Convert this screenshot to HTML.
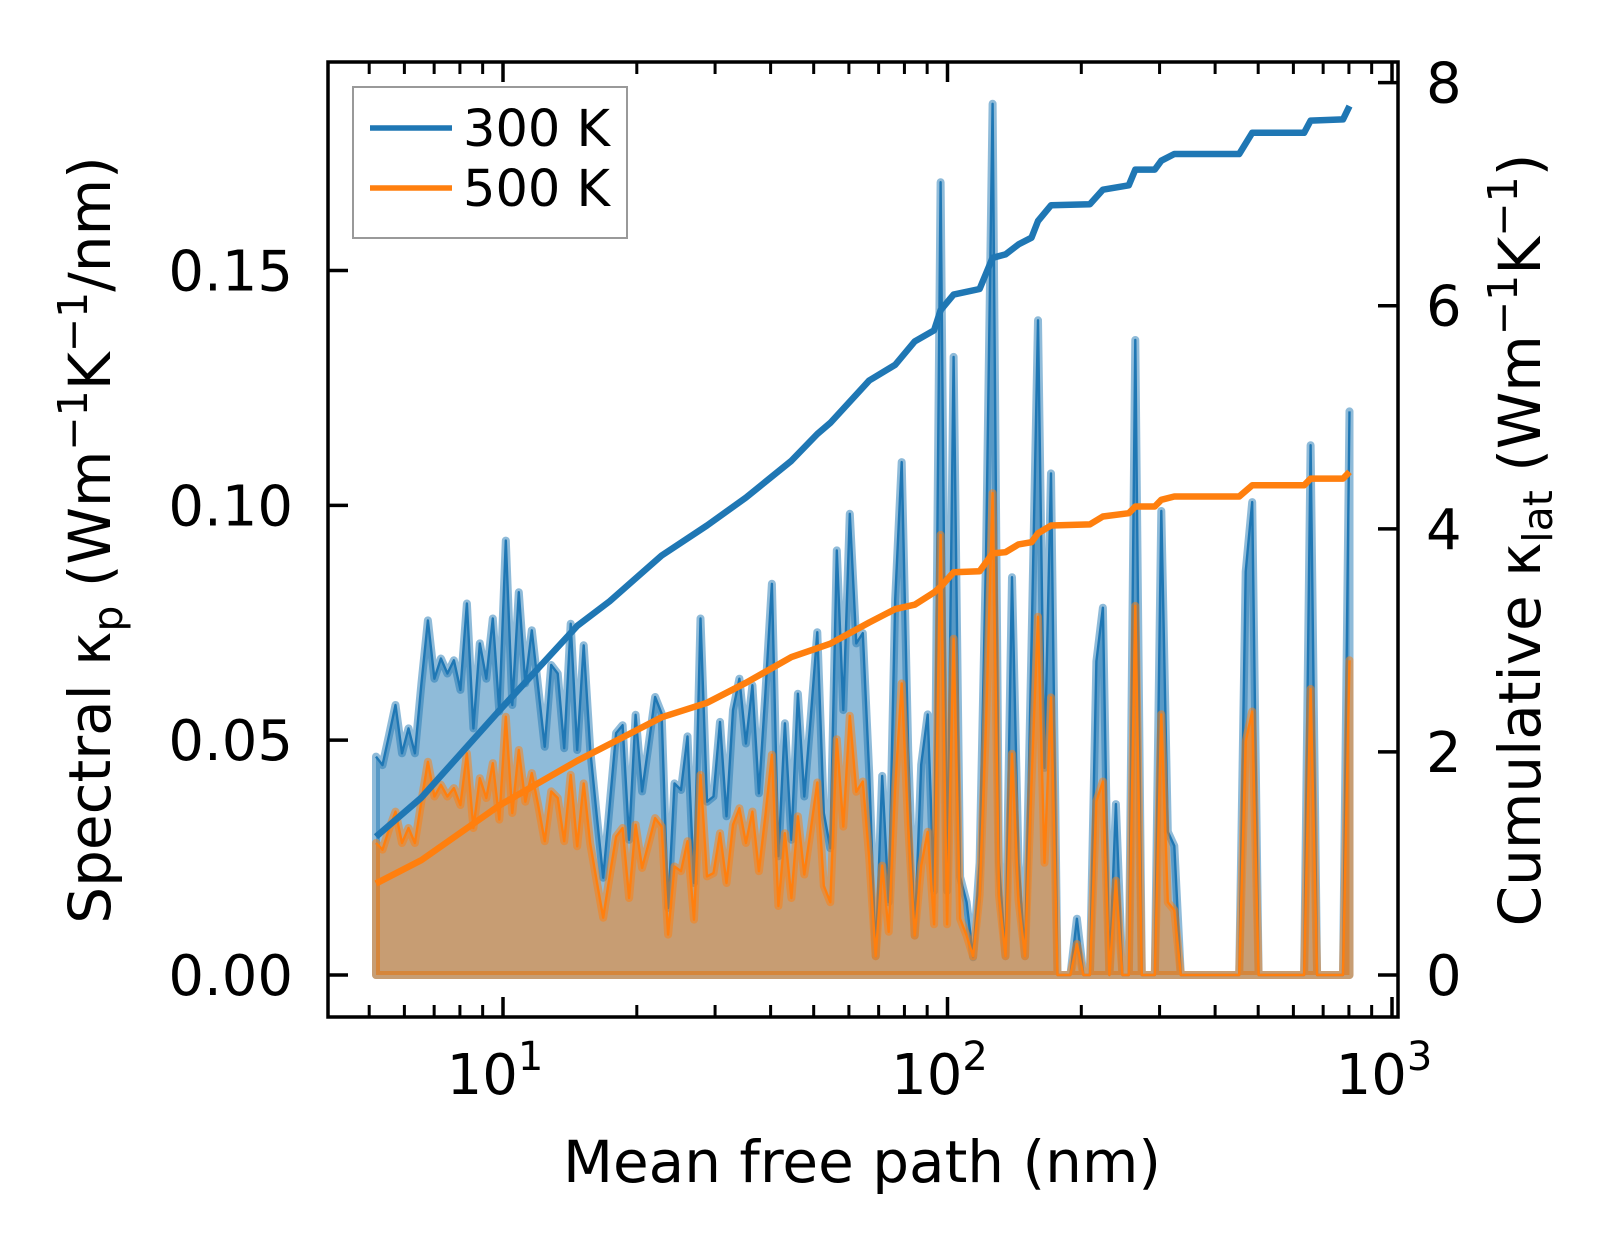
<!DOCTYPE html>
<html><head><meta charset="utf-8"><style>
html,body{margin:0;padding:0;background:#fff;}
svg{display:block;font-family:"DejaVu Sans","Liberation Sans",sans-serif;}
</style></head><body>
<svg id="chart" width="1623" height="1256" viewBox="0 0 1623 1256" xmlns="http://www.w3.org/2000/svg">
<g id="plot"></g>
<g id="axes"></g>
</svg>
<script>
// ---- data ----
const mfpStartLog = 0.7143, mfpEndLog = 2.9044, nPoints = 151; // MFP grid (nm, log-spaced bins)
const spectral300 = [46.5,44.7,51,57.5,47.2,52.5,47.2,62,75.5,63.1,67.4,64.2,67,60.7,79.1,52.5,70.6,63.1,75.9,56.1,92.5,57.5,81.5,62.1,73.4,61,48.6,66,64.2,48.3,74.8,47.9,70.2,48,34,20.7,36,51.5,53.2,28.8,55.4,39.1,49,59.2,55.7,14.3,40.8,39.4,50.8,19.6,75.9,36.9,38,53.9,33.8,56.4,63.1,49.3,61.7,38.7,60,83.3,25.3,53.6,28.8,59.9,38,55,73,34.5,27,90.4,56.4,98.2,70.6,72.8,43,4,42.4,15.5,80,109.2,47.8,8.4,44.8,55.5,17.9,168.8,17.9,131.6,20.9,15.5,3.8,23.9,90,185.5,23.9,4,84.7,23.9,4,70,139.4,44.1,106.8,0,0,0,12,0,0,66.8,78.2,0,36.4,0,0,135.2,0,0,0,98.8,30.5,27.5,0,0,0,0,0,0,0,0,0,0,85.9,100.7,0,0,0,0,0,0,0,0,112.8,0,0,0,0,0,120];
const spectral500 = [28.1,26.7,31,34.8,28.1,31.3,28.1,37,45.4,38,40.5,38,39.8,36.2,47.2,31.3,41.9,37.7,45.1,33.1,55,34.5,47.9,36.9,43,36,28.5,39.1,37.7,28.5,42.6,27.4,40.8,28,20,12.2,21,29.5,31.3,16.4,32,22.8,28,33.4,31.6,8.6,23.1,22.1,28.5,11.8,42.6,21,21.7,30.2,19.6,32,35.5,28.1,34.8,22.1,34,46.9,14.7,30.2,16.4,33.8,21.4,31,41,19,15.5,50.2,31.6,55.2,39,41.2,25,4,23.3,9.2,40,62.1,31.7,8.4,23.3,30.5,10.8,93.7,10.8,71.6,12,8.4,4,17,54,102.6,17,4,47.1,16,4,41,76.3,23.9,59.1,0,0,0,6.6,0,0,37,41.2,0,20.1,0,0,78.6,0,0,0,55.5,15.5,13.8,0,0,0,0,0,0,0,0,0,0,49.7,56.1,0,0,0,0,0,0,0,0,60.9,0,0,0,0,0,67];
const cumIndex = [0,7,19,31,36,44,51,57,64,68,70,76,80,83,86,87,89,93,95,97,99,101,102,104,110,112,116,117,120,121,123,133,135,143,144,149,150];
const cum300 = [1.24,1.59,2.37,3.13,3.35,3.76,4.03,4.28,4.61,4.85,4.95,5.33,5.47,5.68,5.78,5.96,6.10,6.15,6.43,6.46,6.55,6.61,6.76,6.90,6.91,7.04,7.08,7.22,7.22,7.30,7.36,7.36,7.55,7.55,7.66,7.67,7.79];
const cum500 = [0.82,1.03,1.52,1.92,2.07,2.31,2.44,2.62,2.85,2.93,2.97,3.16,3.28,3.32,3.43,3.48,3.61,3.62,3.78,3.79,3.86,3.88,3.96,4.03,4.04,4.11,4.14,4.20,4.20,4.26,4.29,4.29,4.39,4.39,4.45,4.45,4.51];
const yLeftTicks = [0, 0.05, 0.10, 0.15];
const yLeftLabels = ["0.00","0.05","0.10","0.15"];
const yRightTicks = [0,2,4,6,8];
const xDecades = [1,2,3];

// ---- geometry ----
const L=328,R=1398,T=62,B=1017;
const xLogMin=0.6063,xLogMax=3.0135;
const yMin=-0.00894,yMax=0.1944;
const y2Min=-0.3765,y2Max=8.185;
const X=m=>L+(Math.log10(m)-xLogMin)/(xLogMax-xLogMin)*(R-L);
const Y=v=>B-(v-yMin)/(yMax-yMin)*(B-T);
const Y2=v=>B-(v-y2Min)/(y2Max-y2Min)*(B-T);
const mfp=[];for(let i=0;i<nPoints;i++)mfp.push(Math.pow(10,mfpStartLog+(mfpEndLog-mfpStartLog)*i/(nPoints-1)));

const NS="http://www.w3.org/2000/svg";
const plot=document.getElementById('plot'), axes=document.getElementById('axes');
function mk(tag,attrs,parent){const e=document.createElementNS(NS,tag);for(const k in attrs)e.setAttribute(k,attrs[k]);parent.appendChild(e);return e;}

function drawSpectral(vals,color,name){
  let pts=vals.map((v,i)=>X(mfp[i]).toFixed(1)+','+Y(v/1000).toFixed(1));
  const poly=[X(mfp[0]).toFixed(1)+','+Y(0).toFixed(1),...pts,X(mfp[nPoints-1]).toFixed(1)+','+Y(0).toFixed(1)].join(' ');
  const area=mk('polygon',{points:poly,fill:color,'fill-opacity':0.5,stroke:color,'stroke-opacity':0.5,'stroke-width':8,'stroke-linejoin':'round'},plot);
  
  
  const line=mk('polyline',{points:pts.join(' '),fill:'none',stroke:color,'stroke-width':2.4,'stroke-linejoin':'round'},plot);
  
  
}
drawSpectral(spectral300,'#1f77b4','spectral-300k');
drawSpectral(spectral500,'#ff7f0e','spectral-500k');

function drawCum(vals,color,name){
  const pts=vals.map((v,j)=>X(mfp[cumIndex[j]]).toFixed(1)+','+Y2(v).toFixed(1)).join(' ');
  const l=mk('polyline',{points:pts,fill:'none',stroke:color,'stroke-width':6.5,'stroke-linejoin':'round'},plot);
  
  
}
drawCum(cum300,'#1f77b4','cumulative-300k');
drawCum(cum500,'#ff7f0e','cumulative-500k');

// frame
const frame=mk('rect',{x:L,y:T,width:R-L,height:B-T,fill:'none',stroke:'#000','stroke-width':3.5},axes);



// x ticks
for(let d=0;d<=3;d++){for(let k=1;k<=9;k++){const m=k*Math.pow(10,d);const lg=Math.log10(m);if(lg<xLogMin||lg>xLogMax)continue;const x=X(m);const len=k===1?20:12;
  mk('line',{x1:x,y1:B,x2:x,y2:B-len,stroke:'#000','stroke-width':k===1?3.5:3},axes);
  mk('line',{x1:x,y1:T,x2:x,y2:T+len,stroke:'#000','stroke-width':k===1?3.5:3},axes);}}
xDecades.forEach(d=>{const t=mk('text',{x:X(Math.pow(10,d))-8,y:1094,'text-anchor':'middle','font-size':56,fill:'#000'},axes);
  
  
  t.innerHTML='10<tspan dy="-24" font-size="40">'+d+'</tspan>';});
// left ticks
yLeftTicks.forEach((v,i)=>{const y=Y(v);mk('line',{x1:L,y1:y,x2:L+20,y2:y,stroke:'#000','stroke-width':3.5},axes);
  const t=mk('text',{x:293,y:y+20,'text-anchor':'end','font-size':56,fill:'#000'},axes);
  
  
  t.textContent=yLeftLabels[i];});
// right ticks
yRightTicks.forEach(v=>{const y=Y2(v);mk('line',{x1:R,y1:y,x2:R-20,y2:y,stroke:'#000','stroke-width':3.5},axes);
  const t=mk('text',{x:1426,y:y+20,'text-anchor':'start','font-size':56,fill:'#000'},axes);
  
  
  t.textContent=v;});
</script>
<svg style="position:absolute;left:0;top:0" width="1623" height="1256" viewBox="0 0 1623 1256" xmlns="http://www.w3.org/2000/svg" font-family="DejaVu Sans, Liberation Sans, sans-serif">
<text x="862" y="1182" text-anchor="middle" font-size="58">Mean free path (nm)</text>
<text transform="translate(110,540) rotate(-90)" text-anchor="middle" font-size="58">Spectral κ<tspan dy="12" font-size="41">p</tspan><tspan dy="-12"> (Wm</tspan><tspan dy="-23" font-size="41">−1</tspan><tspan dy="23">K</tspan><tspan dy="-23" font-size="41">−1</tspan><tspan dy="23">/nm)</tspan></text>
<text transform="translate(1540,540) rotate(-90)" text-anchor="middle" font-size="58">Cumulative κ<tspan dy="12" font-size="41">lat</tspan><tspan dy="-12"> (Wm</tspan><tspan dy="-23" font-size="41">−1</tspan><tspan dy="23">K</tspan><tspan dy="-23" font-size="41">−1</tspan><tspan dy="23">)</tspan></text>
<g>
<rect x="353" y="87" width="274" height="151" fill="#fff" fill-opacity="0.8" stroke="#999" stroke-width="2"/>
<g><line x1="370" y1="128" x2="452" y2="128" stroke="#1f77b4" stroke-width="5.5"/><text x="463" y="146" font-size="51">300 K</text></g>
<g><line x1="370" y1="188" x2="452" y2="188" stroke="#ff7f0e" stroke-width="5.5"/><text x="463" y="206" font-size="51">500 K</text></g>
</g>
</svg>
</body></html>
